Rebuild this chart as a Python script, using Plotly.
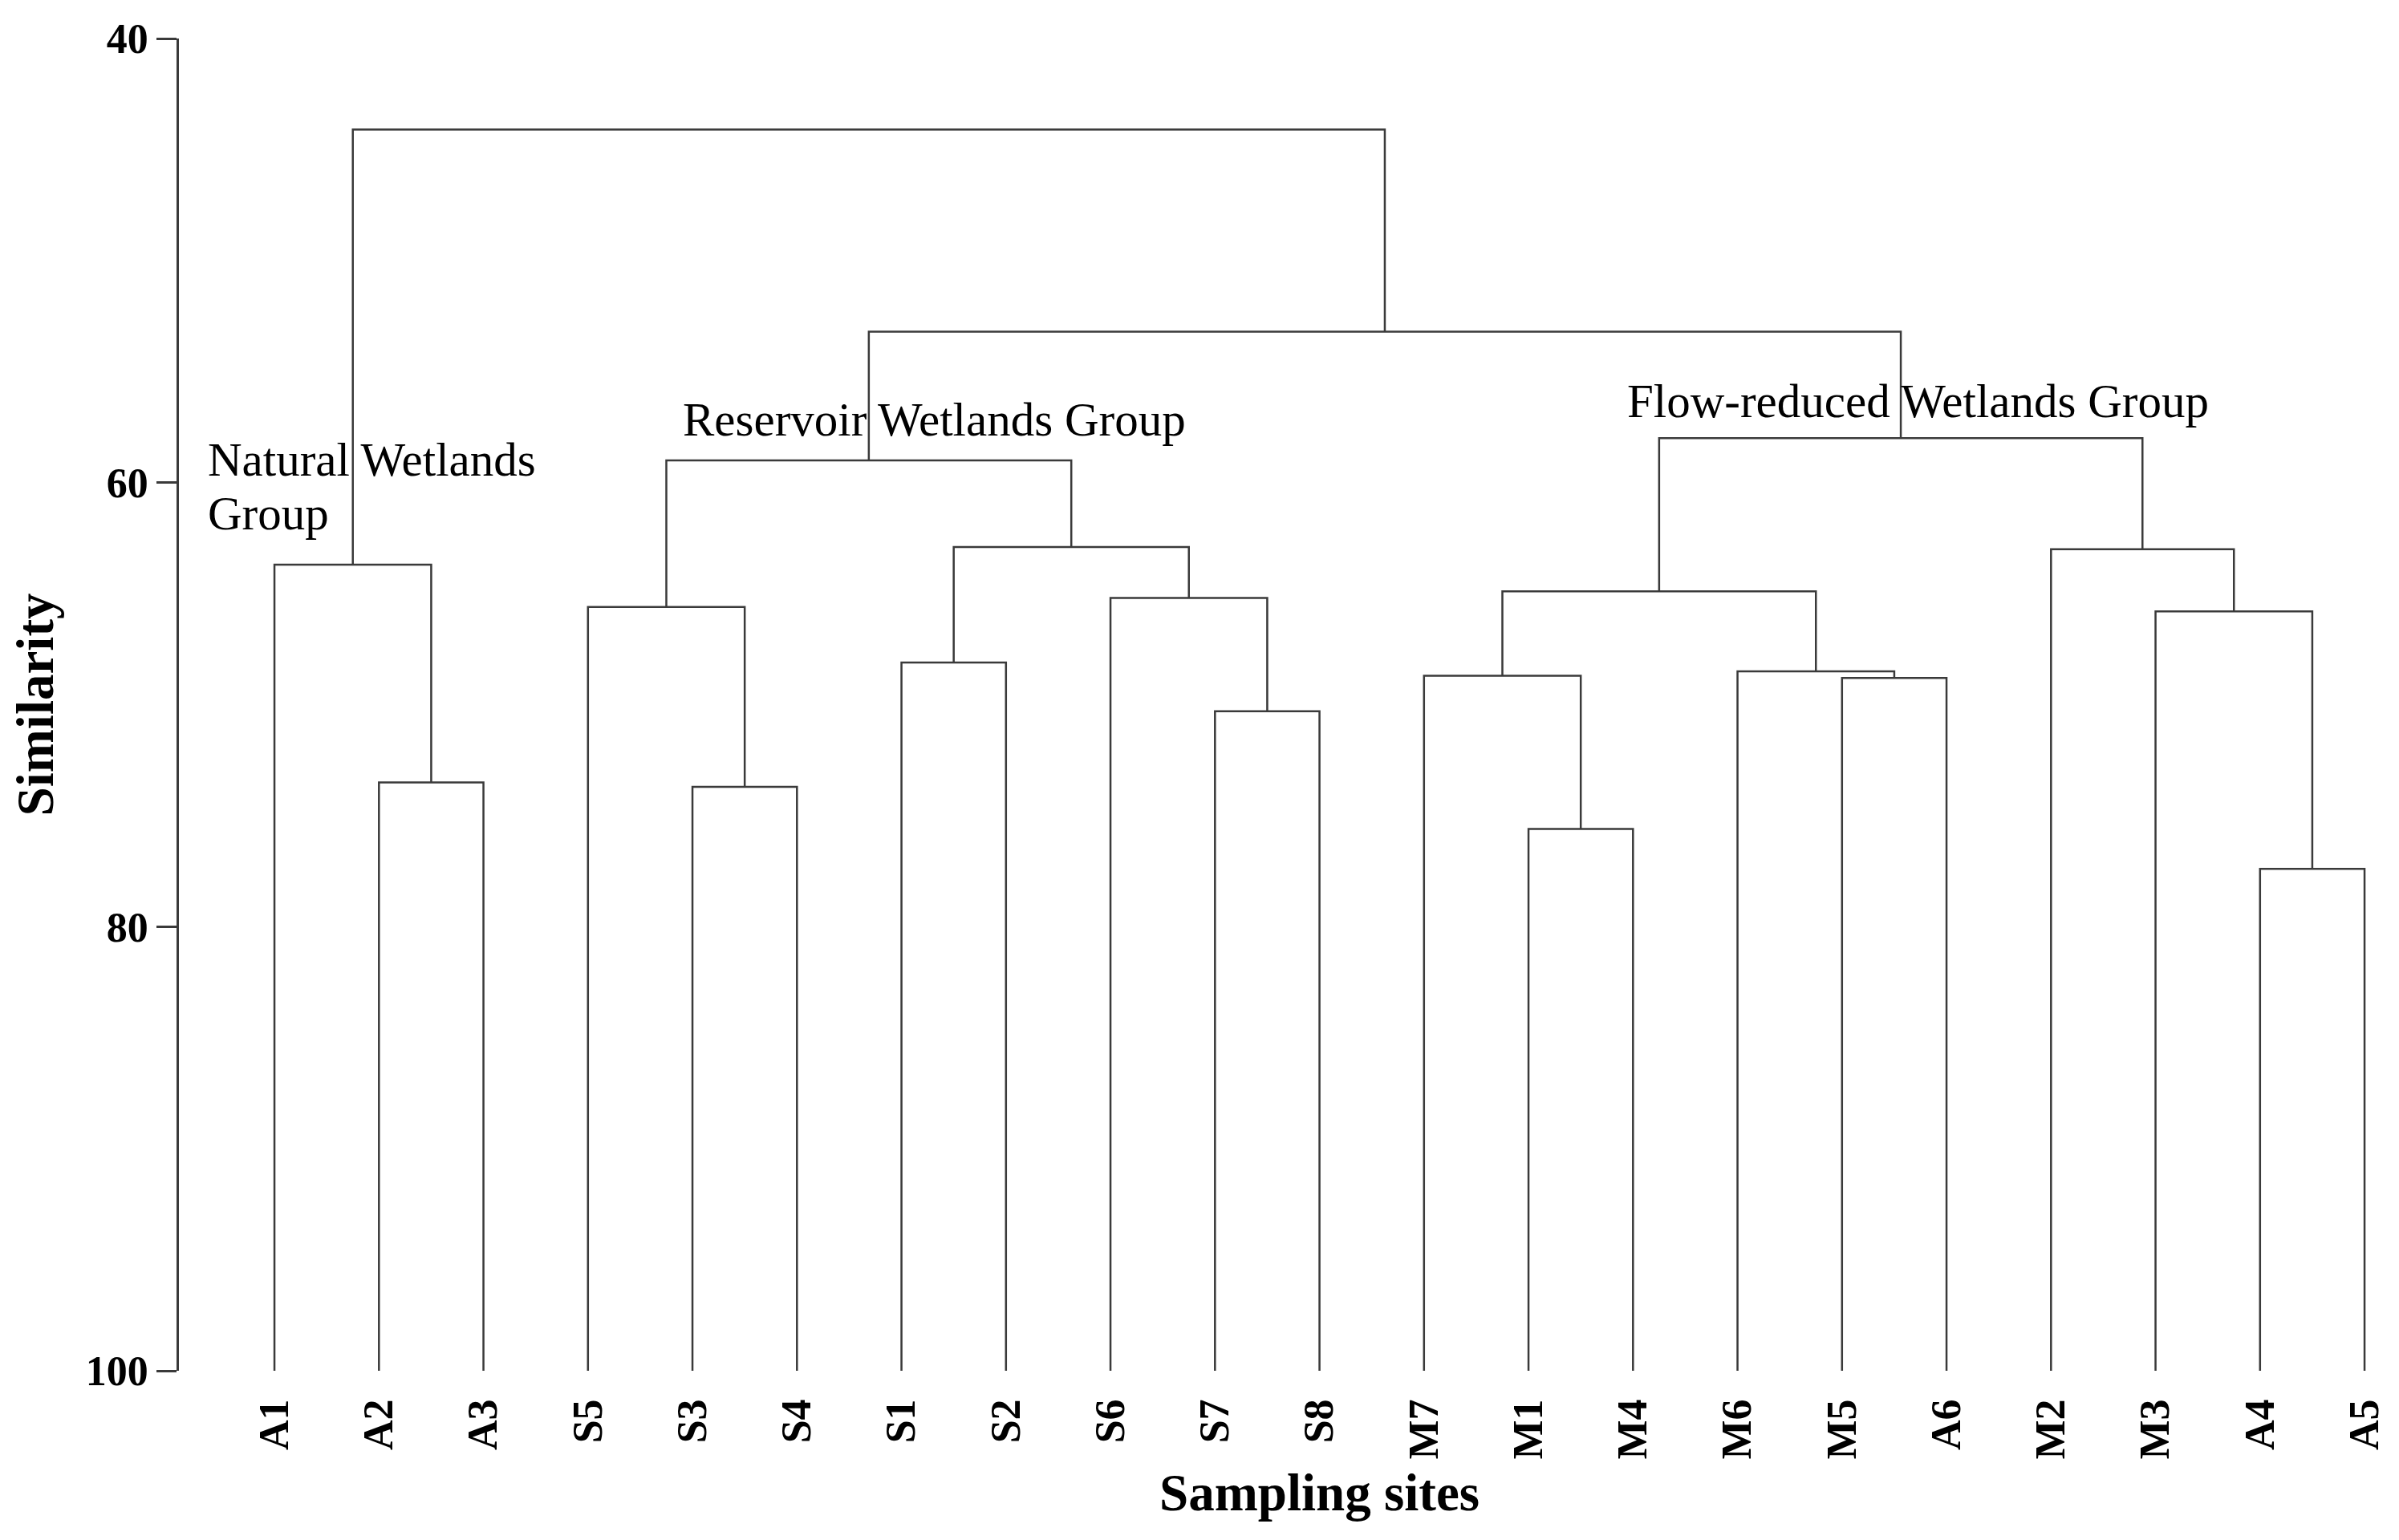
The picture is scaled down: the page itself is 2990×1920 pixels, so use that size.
import plotly.graph_objects as go

# ---- data ----
leaves = ["A1", "A2", "A3", "S5", "S3", "S4", "S1", "S2", "S6", "S7", "S8",
          "M7", "M1", "M4", "M6", "M5", "A6", "M2", "M3", "A4", "A5"]
# merges: cluster c{i} = merge_left[i] + merge_right[i] at similarity merge_height[i]
merge_left = ["A2", "A1", "S3", "S5", "S1", "S7", "S6", "c4", "c3", "M1",
              "M7", "M5", "M6", "c10", "A4", "M3", "M2", "c13", "c8", "c1"]
merge_right = ["A3", "c0", "S4", "c2", "S2", "S8", "c5", "c6", "c7", "M4",
               "c9", "A6", "c11", "c12", "A5", "c14", "c15", "c16", "c17", "c18"]
merge_height = [73.5, 63.7, 73.7, 65.6, 68.1, 70.3, 65.2, 62.9, 59.0, 75.6,
                68.7, 68.8, 68.5, 64.9, 77.4, 65.8, 63.0, 58.0, 53.2, 44.1]
y_ticks = [40, 60, 80, 100]
base_level = 100

group_labels = ["Natural Wetlands", "Group", "Reservoir Wetlands Group",
                "Flow-reduced Wetlands Group"]
group_label_x = [-0.645, -0.645, 3.90, 12.94]
group_label_y = [58.95, 61.38, 57.17, 56.32]

# ---- build dendrogram geometry ----
pos = {name: (i, base_level) for i, name in enumerate(leaves)}
xs, ys = [], []
for i, (a, b, h) in enumerate(zip(merge_left, merge_right, merge_height)):
    xa, ya = pos[a]
    xb, yb = pos[b]
    xs += [xa, xa, xb, xb, None]
    ys += [ya, h, h, yb, None]
    pos[f"c{i}"] = ((xa + xb) / 2, h)

FONT = "Liberation Serif"
LINE = "#3a3a3a"

fig = go.Figure()
fig.add_trace(go.Scatter(x=xs, y=ys, mode="lines",
                         line=dict(color=LINE, width=2.5),
                         hoverinfo="skip", showlegend=False))

for t, x, y in zip(group_labels, group_label_x, group_label_y):
    fig.add_annotation(x=x, y=y, text=t, showarrow=False, xanchor="left",
                       yanchor="middle", align="left", borderpad=0,
                       font=dict(family=FONT, size=59, color="black"))

# x-axis title, centred under the middle leaf as in the original
fig.add_annotation(x=(len(leaves) - 1) / 2, xref="x", y=-0.0913, yref="paper",
                   text="<b>Sampling sites</b>", showarrow=False,
                   xanchor="center", yanchor="middle",
                   font=dict(family=FONT, size=65, color="black"))

fig.update_layout(
    width=2990, height=1920,
    paper_bgcolor="white", plot_bgcolor="white",
    margin=dict(l=215, r=15, t=37, b=219),
    font=dict(family=FONT, color="black"),
    xaxis=dict(range=[-0.914, 20.276], tickmode="array",
               tickvals=list(range(len(leaves))), ticktext=leaves,
               tickangle=-90, showline=False, showgrid=False, zeroline=False,
               ticks="", ticklabelstandoff=24,
               tickfont=dict(family=FONT, size=52, weight="bold")),
    yaxis=dict(range=[100, 40], tickmode="array", tickvals=y_ticks,
               showline=True, linecolor=LINE, linewidth=2.5,
               ticks="outside", ticklen=25, tickwidth=2.5, tickcolor=LINE,
               ticklabelstandoff=0,
               showgrid=False, zeroline=False,
               tickfont=dict(family=FONT, size=52, weight="bold"),
               title=dict(text="<b>Similarity</b>", standoff=23,
                          font=dict(family=FONT, size=65))),
)

fig.write_html("out.html")
